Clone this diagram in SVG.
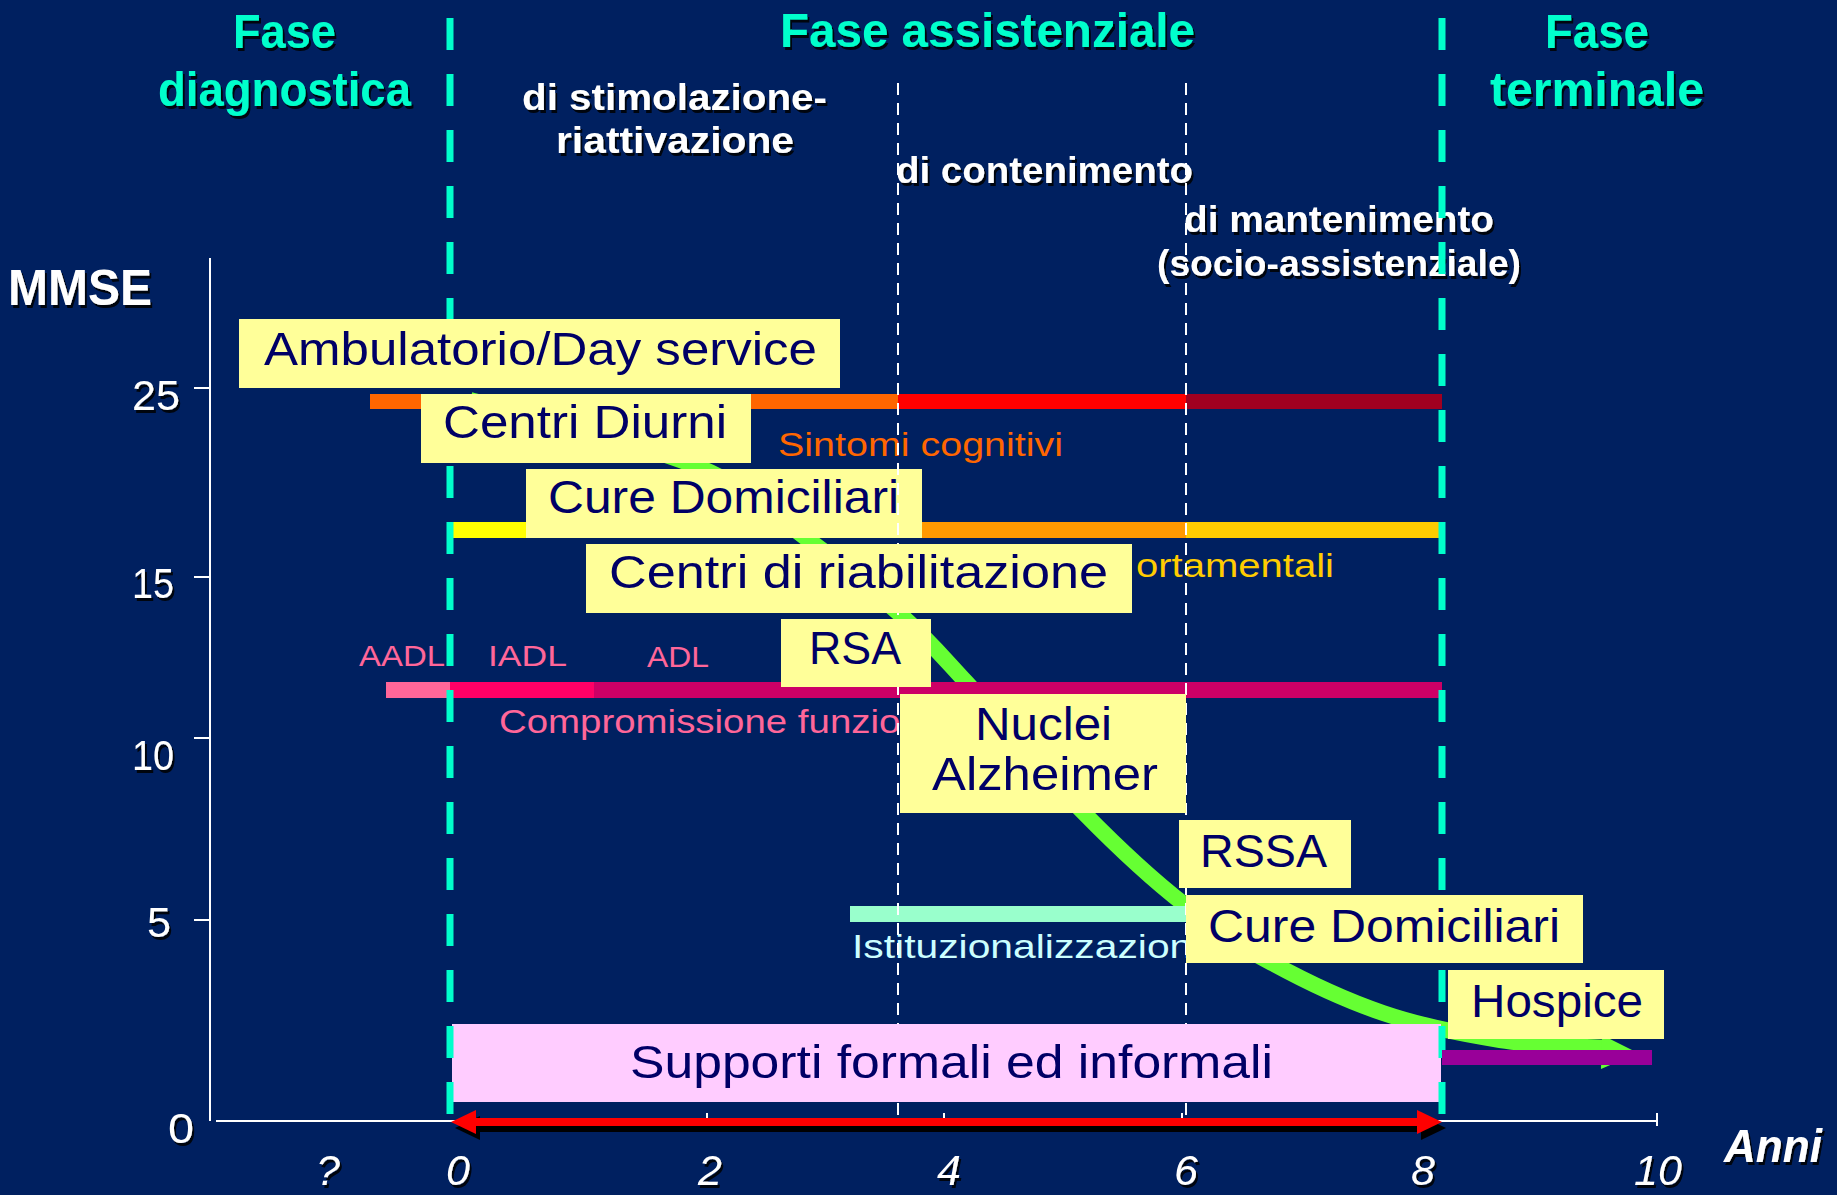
<svg xmlns="http://www.w3.org/2000/svg" width="1837" height="1195" viewBox="0 0 1837 1195">
  <defs>
    <filter id="sh" x="-5%" y="-20%" width="115%" height="150%">
      <feDropShadow dx="2" dy="3" stdDeviation="0.6" flood-color="#000" flood-opacity="0.85"/>
    </filter>
  </defs>
  <style>
    text { font-family: "Liberation Sans", Arial, sans-serif; }
    .phase { font-size: 48px; font-weight: bold; fill: #00FFCC; filter: url(#sh); }
    .sub { font-size: 36px; font-weight: bold; fill: #FFFFFF; filter: url(#sh); }
    .ynum { font-size: 42px; fill: #FFFFFF; filter: url(#sh); }
    .xnum { font-size: 43px; font-style: italic; fill: #FFFFFF; filter: url(#sh); text-anchor: middle; }
    .box { fill: #FFFF99; }
    .btxt { font-size: 46px; fill: #000066; }
    .lbl { font-size: 33px; }
    .teal { stroke: #00FFCC; stroke-width: 7; stroke-dasharray: 32 24; fill: none; }
    .wdash { stroke: #FFFFFF; stroke-width: 2; stroke-dasharray: 12 8; fill: none; }
    .axis { stroke: #FFFFFF; stroke-width: 2; fill: none; }
  </style>

  <!-- background -->
  <rect x="0" y="0" width="1837" height="1195" fill="#002060"/>

  <!-- phase headings -->
  <g id="headings">
    <text class="phase" x="233" y="48" textLength="103" lengthAdjust="spacingAndGlyphs">Fase</text>
    <text class="phase" x="158" y="106" textLength="253" lengthAdjust="spacingAndGlyphs">diagnostica</text>
    <text class="phase" x="780" y="47" textLength="415" lengthAdjust="spacingAndGlyphs">Fase assistenziale</text>
    <text class="phase" x="1545" y="48" textLength="104" lengthAdjust="spacingAndGlyphs">Fase</text>
    <text class="phase" x="1490" y="106" textLength="214" lengthAdjust="spacingAndGlyphs">terminale</text>
    <text class="sub" x="522" y="110" textLength="305" lengthAdjust="spacingAndGlyphs">di stimolazione-</text>
    <text class="sub" x="556" y="153" textLength="238" lengthAdjust="spacingAndGlyphs">riattivazione</text>
    <text class="sub" x="896" y="183" textLength="297" lengthAdjust="spacingAndGlyphs">di contenimento</text>
    <text class="sub" x="1184" y="232" textLength="310" lengthAdjust="spacingAndGlyphs">di mantenimento</text>
    <text class="sub" x="1157" y="276" textLength="364" lengthAdjust="spacingAndGlyphs">(socio-assistenziale)</text>
  </g>

  <!-- axes -->
  <g id="axes">
    <text x="8" y="305" font-size="50" font-weight="bold" fill="#FFFFFF" filter="url(#sh)" textLength="144" lengthAdjust="spacingAndGlyphs">MMSE</text>
    <line class="axis" x1="210" y1="258" x2="210" y2="1121"/>
    <path class="axis" d="M194 388H210M194 577H210M194 738H210M194 920H210"/>
    <line class="axis" x1="216" y1="1121" x2="1657" y2="1121"/>
    <path class="axis" d="M707 1113V1121M944 1113V1121M1182 1113V1121M1657 1113V1126"/>
    <text class="ynum" x="132" y="410" textLength="48" lengthAdjust="spacingAndGlyphs">25</text>
    <text class="ynum" x="132" y="598" textLength="42" lengthAdjust="spacingAndGlyphs">15</text>
    <text class="ynum" x="132" y="770" textLength="42" lengthAdjust="spacingAndGlyphs">10</text>
    <text class="ynum" x="147" y="937" textLength="24" lengthAdjust="spacingAndGlyphs">5</text>
    <text class="ynum" x="168" y="1143" textLength="26" lengthAdjust="spacingAndGlyphs">0</text>
    <text class="xnum" x="328" y="1185">?</text>
    <text class="xnum" x="458" y="1185">0</text>
    <text class="xnum" x="710" y="1185">2</text>
    <text class="xnum" x="949" y="1185">4</text>
    <text class="xnum" x="1186" y="1185">6</text>
    <text class="xnum" x="1423" y="1185">8</text>
    <text class="xnum" x="1658" y="1185">10</text>
    <text x="1724" y="1162" font-size="47" font-weight="bold" font-style="italic" fill="#FFFFFF" filter="url(#sh)" textLength="98" lengthAdjust="spacingAndGlyphs">Anni</text>
  </g>

  <!-- bar captions -->
  <g id="bar-labels">
    <text class="lbl" x="778" y="456" fill="#FF6600" textLength="285" lengthAdjust="spacingAndGlyphs">Sintomi cognitivi</text>
    <text class="lbl" x="1136" y="577" fill="#FFCC00" textLength="198" lengthAdjust="spacingAndGlyphs">ortamentali</text>
    <text x="359" y="666" font-size="30" fill="#FF6699" textLength="86" lengthAdjust="spacingAndGlyphs">AADL</text>
    <text x="488" y="666" font-size="30" fill="#FF6699" textLength="79" lengthAdjust="spacingAndGlyphs">IADL</text>
    <text x="647" y="667" font-size="30" fill="#FF6699" textLength="62" lengthAdjust="spacingAndGlyphs">ADL</text>
    <text x="499" y="733" font-size="34" fill="#FF6699" textLength="474" lengthAdjust="spacingAndGlyphs">Compromissione funzionale</text>
    <text x="852" y="958" font-size="34" fill="#CCFFFF" textLength="363" lengthAdjust="spacingAndGlyphs">Istituzionalizzazione</text>
  </g>

  <!-- connectors: disease course curve and time span arrow -->
  <g id="connectors">
    <path d="M470 400 C507.7 411 639.3 442.5 696 466 C752.7 489.5 775.7 516 810 541 C844.3 566 876 592.5 902 616 C928 639.5 935.7 649.2 966 682 C996.3 714.8 1047.5 775.8 1084 813 C1120.5 850.2 1152.3 879.7 1185 905 C1217.7 930.3 1240 947 1272 963 C1305 981 1346.3 1000.5 1383 1013 C1419.7 1025.5 1462.8 1034.2 1500 1040 C1537.2 1045.8 1588.3 1046.7 1606 1048" fill="none" stroke="#66FF33" stroke-width="16" stroke-linejoin="round"/>
    <polygon points="1602,1035 1638,1053 1601,1069" fill="#66FF33"/>
    <g transform="translate(4,6)" fill="#000000">
      <rect x="470" y="1118" width="952" height="8"/>
      <polygon points="451,1122 476,1110 476,1134"/>
      <polygon points="1442,1122 1417,1110 1417,1134"/>
    </g>
    <g fill="#FF0000">
      <rect x="470" y="1118" width="952" height="8"/>
      <polygon points="451,1122 476,1110 476,1134"/>
      <polygon points="1442,1122 1417,1110 1417,1134"/>
    </g>
  </g>

  <!-- symptom bars -->
  <g id="bars">
    <rect x="370" y="394" width="528" height="15" fill="#FF6600"/>
    <rect x="898" y="394" width="288" height="15" fill="#FF0000"/>
    <rect x="1186" y="394" width="256" height="15" fill="#A00020"/>
    <rect x="450" y="522" width="270" height="16" fill="#FFFF00"/>
    <rect x="720" y="522" width="466" height="16" fill="#FF9900"/>
    <rect x="1186" y="522" width="256" height="16" fill="#FFCC00"/>
    <rect x="386" y="682" width="64" height="16" fill="#FF6699"/>
    <rect x="450" y="682" width="144" height="16" fill="#FF0066"/>
    <rect x="594" y="682" width="848" height="16" fill="#CC0066"/>
    <rect x="850" y="906" width="336" height="16" fill="#99FFCC"/>
  </g>

  <g id="node-cure-domiciliari-1">
    <rect class="box" x="526" y="469" width="396" height="69"/>
    <text class="btxt" x="548" y="513" textLength="351" lengthAdjust="spacingAndGlyphs">Cure Domiciliari</text>
  </g>

  <!-- sub-phase separators -->
  <g id="subphase-lines">
    <line class="wdash" x1="898" y1="83" x2="898" y2="1121"/>
    <line class="wdash" x1="1186" y1="83" x2="1186" y2="1121"/>
  </g>

  <g id="node-supporti">
    <rect x="452" y="1024" width="989" height="78" fill="#FFCCFF"/>
    <text class="btxt" x="630" y="1078" textLength="643" lengthAdjust="spacingAndGlyphs">Supporti formali ed informali</text>
  </g>

  <!-- phase separators -->
  <g id="phase-lines">
    <line class="teal" x1="450" y1="18" x2="450" y2="1115"/>
    <line class="teal" x1="1442" y1="18" x2="1442" y2="1115"/>
  </g>

  <g id="node-ambulatorio">
    <rect class="box" x="239" y="319" width="601" height="69"/>
    <text class="btxt" x="264" y="365" textLength="553" lengthAdjust="spacingAndGlyphs">Ambulatorio/Day service</text>
  </g>
  <g id="node-centri-diurni">
    <rect class="box" x="421" y="394" width="330" height="69"/>
    <text class="btxt" x="443" y="438" textLength="284" lengthAdjust="spacingAndGlyphs">Centri Diurni</text>
  </g>
  <g id="node-centri-riabilitazione">
    <rect class="box" x="586" y="544" width="546" height="69"/>
    <text class="btxt" x="609" y="588" textLength="499" lengthAdjust="spacingAndGlyphs">Centri di riabilitazione</text>
  </g>
  <g id="node-rsa">
    <rect class="box" x="781" y="619" width="150" height="68"/>
    <text class="btxt" x="809" y="664" textLength="92" lengthAdjust="spacingAndGlyphs">RSA</text>
  </g>
  <g id="node-nuclei-alzheimer">
    <rect class="box" x="900" y="694" width="286" height="119"/>
    <text class="btxt" x="975" y="740" textLength="137" lengthAdjust="spacingAndGlyphs">Nuclei</text>
    <text class="btxt" x="932" y="790" textLength="226" lengthAdjust="spacingAndGlyphs">Alzheimer</text>
  </g>
  <g id="node-rssa">
    <rect class="box" x="1179" y="820" width="172" height="68"/>
    <text class="btxt" x="1200" y="867" textLength="127" lengthAdjust="spacingAndGlyphs">RSSA</text>
  </g>
  <g id="node-cure-domiciliari-2">
    <rect class="box" x="1186" y="895" width="397" height="68"/>
    <text class="btxt" x="1208" y="942" textLength="352" lengthAdjust="spacingAndGlyphs">Cure Domiciliari</text>
  </g>
  <g id="node-hospice">
    <rect class="box" x="1448" y="970" width="216" height="69"/>
    <text class="btxt" x="1471" y="1017" textLength="172" lengthAdjust="spacingAndGlyphs">Hospice</text>
  </g>

  <!-- terminal care bar -->
  <rect id="terminal-bar" x="1442" y="1050" width="210" height="15" fill="#990099"/>
</svg>
